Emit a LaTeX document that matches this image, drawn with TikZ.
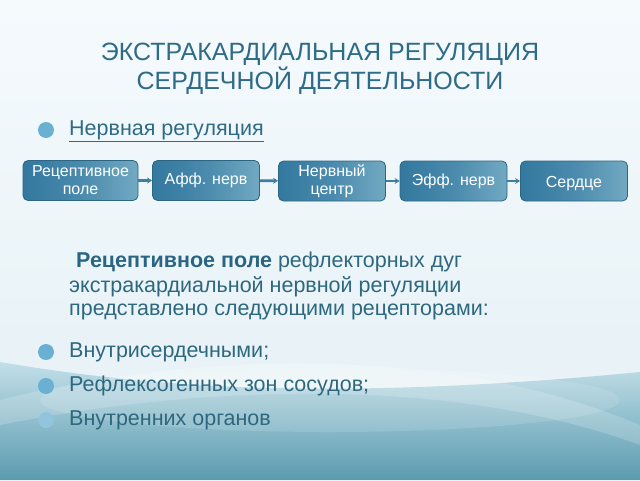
\documentclass[tikz,border=0pt]{standalone}
\usepackage{fontspec}
\setmainfont{Liberation Sans}
\usetikzlibrary{arrows.meta}
\definecolor{bgtop}{HTML}{F5FAFD}
\definecolor{bgmid}{HTML}{E9F3F7}
\definecolor{tealA}{HTML}{C2DFE9}
\definecolor{tealB}{HTML}{5B9BAF}
\definecolor{titlec}{HTML}{2E6B86}
\definecolor{textc}{HTML}{2E687F}
\definecolor{boldc}{HTML}{2A6683}
\definecolor{bulletc}{HTML}{6AB0D3}
\definecolor{boxL}{HTML}{33789F}
\definecolor{boxM}{HTML}{4A8AAC}
\definecolor{boxR}{HTML}{72A9C2}
\definecolor{boxD}{HTML}{2C6683}
\definecolor{connc}{HTML}{3D7F9E}
\tikzset{
  flowbox/.style={draw=boxD, line width=0.8pt, rounded corners=5pt,
    left color=boxL, right color=boxR, middle color=boxM,
    text=white, align=center, inner sep=0pt,
    font=\fontsize{16}{18}\selectfont},
  conn/.style={draw=connc, line width=2.6pt, -{Stealth[length=5pt,width=6pt]}},
  bodytext/.style={text=textc, anchor=west, inner sep=0pt, font=\fontsize{21.5}{25}\selectfont},
  bul/.style={circle, fill=bulletc, minimum size=16pt, inner sep=0pt},
  titletext/.style={text=titlec, align=center, font=\fontsize{25}{28.5}\selectfont}
}
\begin{document}
\begin{tikzpicture}[x=1pt,y=-1pt]
\useasboundingbox (0,0) rectangle (640,480);
% background
\shade[top color=bgtop, bottom color=bgmid] (0,0) rectangle (640,340);
\fill[bgmid] (0,339) rectangle (640,480);
\shade[top color=tealA, bottom color=tealB]
  (0,362) .. controls (120,382) and (300,405) .. (640,372) -- (640,480) -- (0,480) -- cycle;
\fill[white, opacity=0.18]
  (0,400) .. controls (200,350) and (450,345) .. (640,425) -- (640,445) .. controls (450,375) and (200,385) .. (0,425) -- cycle;
\fill[white, opacity=0.12] (330,400) ellipse (290 and 32);
% title
\node[titletext] (title) at (320,69) {ЭКСТРАКАРДИАЛЬНАЯ РЕГУЛЯЦИЯ\\СЕРДЕЧНОЙ ДЕЯТЕЛЬНОСТИ};
% first bullet
\node[bul] (b0) at (46,130) {};
\node[bodytext, text=titlec] (nerv) at (69,131) {\underline{Нервная регуляция}};
% boxes
\node[flowbox, minimum width=115pt, minimum height=40pt] (r1) at (80.5,180.5) {Рецептивное\\поле};
\node[flowbox, minimum width=107pt, minimum height=40pt] (r2) at (206,180.5) {Афф. нерв};
\node[flowbox, minimum width=107pt, minimum height=40pt] (r3) at (332,181) {Нервный\\центр};
\node[flowbox, minimum width=107pt, minimum height=40pt] (r4) at (453.5,181) {Эфф. нерв};
\node[flowbox, minimum width=107pt, minimum height=40pt] (r5) at (574,181) {\smash{\raisebox{-6pt}{Сердце}}};
\draw[conn] (r1) -- (r2);
\draw[conn] (r2) -- (r3);
\draw[conn] (r3) -- (r4);
\draw[conn] (r4) -- (r5);
% paragraph
\node[bodytext] (p1) at (76,262) {\textcolor{boldc}{\bfseries Рецептивное поле} рефлекторных дуг};
\node[bodytext] (p2) at (69,287) {экстракардиальной нервной регуляции};
\node[bodytext] (p3) at (69,312) {представлено следующими рецепторами:};
% bullets
\node[bul] (b1) at (46,352) {};
\node[bodytext] (t1) at (69,352) {Внутрисердечными;};
\node[bul] (b2) at (46,386) {};
\node[bodytext] (t2) at (69,386) {Рефлексогенных зон сосудов;};
\node[bul, fill=bulletc!55!tealA] (b3) at (46,420) {};
\node[bodytext] (t3) at (69,420) {Внутренних органов};
\end{tikzpicture}
\end{document}
